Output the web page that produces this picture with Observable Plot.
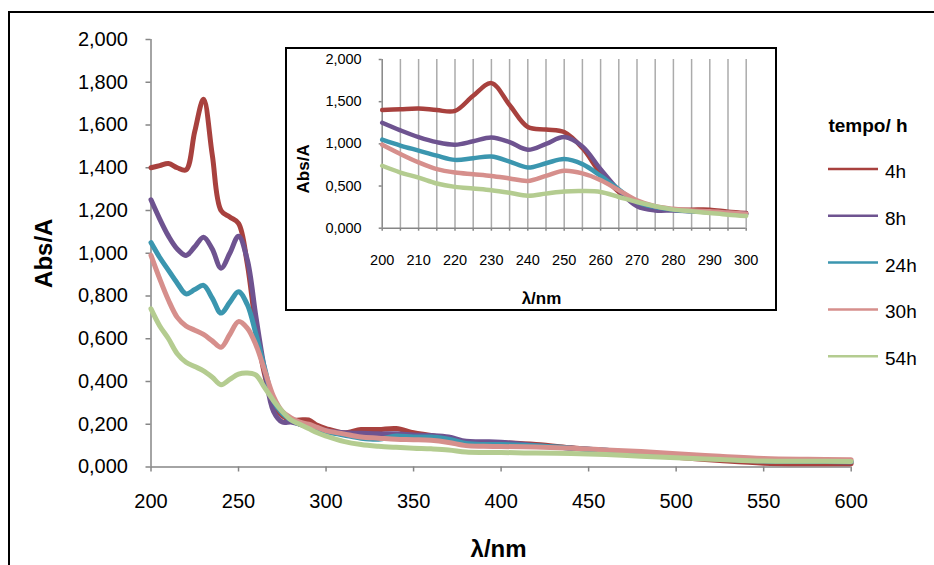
<!DOCTYPE html>
<html><head><meta charset="utf-8">
<script src="https://cdn.jsdelivr.net/npm/d3@7"></script>
<script src="https://cdn.jsdelivr.net/npm/@observablehq/plot@0.6"></script>
<style>
body{margin:0;background:#fff;}
#wrap{position:relative;width:934px;height:565px;overflow:hidden;background:#fff;font-family:"Liberation Sans",Arial,sans-serif;}
#wrap > *{position:absolute;}
#frame{left:8px;top:11px;width:1000px;height:700px;border-top:2px solid #000;border-left:2px solid #000;}
#insetBox{left:285px;top:47px;width:492px;height:264px;box-sizing:border-box;border:2px solid #000;background:#fff;}
</style></head><body><div id="wrap"></div>
<script>
const wavelengths = [200,205,210,215,220,225,230,235,240,245,250,255,260,265,270,275,280,285,290,295,300,310,320,330,340,350,360,370,380,390,400,420,440,460,480,500,525,550,575,600];
const abs4h  = [1.40,1.41,1.42,1.40,1.39,1.57,1.72,1.46,1.20,1.17,1.14,0.95,0.65,0.43,0.29,0.24,0.22,0.22,0.22,0.195,0.18, 0.16,0.175,0.175,0.18,0.16,0.147,0.13,0.116,0.115,0.113, 0.105,0.09,0.075,0.06,0.045,0.03,0.018,0.015,0.015];
const abs8h  = [1.25,1.16,1.08,1.02,0.99,1.03,1.075,1.02,0.93,1.00,1.08,0.97,0.70,0.45,0.26,0.21,0.21,0.20,0.19,0.18,0.17, 0.16,0.158,0.155,0.155,0.15,0.147,0.14,0.12,0.118,0.116, 0.10,0.088,0.078,0.065,0.052,0.04,0.03,0.027,0.025];
const abs24h = [1.05,0.98,0.92,0.86,0.81,0.83,0.85,0.79,0.72,0.77,0.82,0.76,0.62,0.46,0.31,0.25,0.22,0.20,0.19,0.175,0.165, 0.15,0.135,0.13,0.145,0.14,0.14,0.13,0.11,0.105,0.105, 0.10,0.088,0.078,0.065,0.052,0.038,0.028,0.026,0.025];
const abs30h = [0.99,0.88,0.78,0.70,0.66,0.64,0.62,0.59,0.56,0.62,0.68,0.65,0.57,0.45,0.33,0.26,0.23,0.21,0.20,0.185,0.17, 0.155,0.14,0.135,0.13,0.128,0.125,0.115,0.10,0.097,0.096, 0.093,0.088,0.08,0.072,0.062,0.05,0.04,0.036,0.034];
const abs54h = [0.74,0.66,0.60,0.53,0.49,0.47,0.45,0.42,0.385,0.41,0.435,0.44,0.43,0.37,0.31,0.26,0.22,0.20,0.18,0.16,0.145, 0.12,0.105,0.097,0.092,0.088,0.085,0.08,0.07,0.068,0.068, 0.065,0.063,0.058,0.05,0.043,0.035,0.028,0.027,0.026];

const seriesNames = ["4h","8h","24h","30h","54h"];
const seriesColors = ["#A8413E","#6E5390","#3B96AF","#D68F8C","#B4CC90"];
const legendTitle = "tempo/ h";
const yTitle = "Abs/A";
const xTitle = "λ/nm";
const mainXTicks = [200,250,300,350,400,450,500,550,600];
const mainYTicks = [0,0.2,0.4,0.6,0.8,1.0,1.2,1.4,1.6,1.8,2.0];
const insetXTicks = [200,210,220,230,240,250,260,270,280,290,300];
const insetYTicks = [0,0.5,1.0,1.5,2.0];
const insetGrid = [205,210,215,220,225,230,235,240,245,250,255,260,265,270,275,280,285,290,295,300];
const insetMinorTicks = [200,205,210,215,220,225,230,235,240,245,250,255,260,265,270,275,280,285,290,295,300];

const allSeries = [abs4h, abs8h, abs24h, abs30h, abs54h];
const rows = [];
allSeries.forEach((vals, i) => vals.forEach((v, j) => rows.push({lambda: wavelengths[j], abs: v, series: seriesNames[i]})));
const insetRows = rows.filter(d => d.lambda <= 300);

const fmt = v => v.toFixed(3).replace(".", ",");
const axisGray = "#868686";
const font = "'Liberation Sans', Arial, sans-serif";

const wrap = document.getElementById("wrap");

const main = Plot.plot({
  width: 934, height: 565,
  marginLeft: 150.5, marginRight: 83.3, marginTop: 39, marginBottom: 98.5,
  style: {background: "transparent", fontFamily: font, color: "#000", overflow: "visible"},
  x: {domain: [200, 600]},
  y: {domain: [0, 2]},
  color: {domain: seriesNames, range: seriesColors},
  marks: [
    Plot.ruleX([200], {stroke: axisGray, strokeWidth: 1.5}),
    Plot.ruleY([0], {stroke: axisGray, strokeWidth: 1.5}),
    Plot.axisY({ticks: mainYTicks, tickFormat: fmt, tickSize: 5, tickPadding: 18, stroke: axisGray, strokeWidth: 1.5, fill: "#000", fontSize: 20, label: null}),
    Plot.axisX({ticks: mainXTicks, tickFormat: d => String(d), tickSize: 5, tickPadding: 22, stroke: axisGray, strokeWidth: 1.5, fill: "#000", fontSize: 20, label: null}),
    Plot.line(rows, {x: "lambda", y: "abs", z: "series", stroke: "series", strokeWidth: 5, curve: "catmull-rom", strokeLinejoin: "round", strokeLinecap: "round"}),
    Plot.text([yTitle], {text: d => d, frameAnchor: "left", dx: -106.5, dy: 0, rotate: -90, fontSize: 24, fontWeight: "bold", fill: "#000", textAnchor: "middle", lineAnchor: "middle"}),
    Plot.text([xTitle], {text: d => d, frameAnchor: "bottom", dx: -2.5, dy: 82, fontSize: 24, fontWeight: "bold", fill: "#000", textAnchor: "middle", lineAnchor: "middle"})
  ]
});
main.style.left = "0px"; main.style.top = "0px";
wrap.appendChild(main);

const box = document.createElement("div"); box.id = "insetBox"; wrap.appendChild(box);

const inset = Plot.plot({
  width: 934, height: 565,
  marginLeft: 381.7, marginRight: 188.3, marginTop: 59, marginBottom: 337.3,
  style: {background: "transparent", fontFamily: font, color: "#000", overflow: "visible"},
  x: {domain: [200, 300]},
  y: {domain: [0, 2]},
  color: {domain: seriesNames, range: seriesColors},
  marks: [
    Plot.ruleX(insetGrid, {stroke: "#ABABAB", strokeWidth: 1.5}),
    Plot.ruleX([200], {stroke: axisGray, strokeWidth: 1.5}),
    Plot.ruleY([0], {stroke: axisGray, strokeWidth: 1.5}),
    Plot.axisY({ticks: insetYTicks, tickFormat: fmt, tickSize: 3, tickPadding: 17.5, stroke: axisGray, strokeWidth: 1.5, fill: "#000", fontSize: 14.5, label: null}),
    Plot.axisX({ticks: insetMinorTicks, tickFormat: () => "", tickSize: 3, stroke: axisGray, strokeWidth: 1.5, label: null}),
    Plot.axisX({ticks: insetXTicks, tickFormat: d => String(d), tickSize: 0, tickPadding: 27, fill: "#000", fontSize: 14.5, label: null}),
    Plot.line(insetRows, {x: "lambda", y: "abs", z: "series", stroke: "series", strokeWidth: 4.5, curve: "catmull-rom", strokeLinejoin: "round", strokeLinecap: "round"}),
    Plot.text([yTitle], {text: d => d, frameAnchor: "left", dx: -78.7, dy: 25, rotate: -90, fontSize: 17, fontWeight: "bold", fill: "#000", textAnchor: "middle", lineAnchor: "middle"}),
    Plot.text([xTitle], {text: d => d, frameAnchor: "bottom", dx: -22.7, dy: 70, fontSize: 17, fontWeight: "bold", fill: "#000", textAnchor: "middle", lineAnchor: "middle"})
  ]
});
inset.style.left = "0px"; inset.style.top = "0px";
wrap.appendChild(inset);

const frame = document.createElement("div"); frame.id = "frame"; wrap.appendChild(frame);

// legend
const ns = "http://www.w3.org/2000/svg";
const leg = document.createElementNS(ns, "svg");
leg.setAttribute("width", "150"); leg.setAttribute("height", "300");
leg.style.left = "784px"; leg.style.top = "100px";
leg.style.fontFamily = font;
const t = document.createElementNS(ns, "text");
t.setAttribute("x", 84); t.setAttribute("y", 32);
t.setAttribute("text-anchor", "middle");
t.setAttribute("font-size", "19"); t.setAttribute("font-weight", "bold");
t.textContent = legendTitle; leg.appendChild(t);
seriesNames.forEach((name, i) => {
  const y = 69 + i * 46.8;
  const l = document.createElementNS(ns, "line");
  l.setAttribute("x1", 44); l.setAttribute("x2", 94);
  l.setAttribute("y1", y); l.setAttribute("y2", y);
  l.setAttribute("stroke", seriesColors[i]); l.setAttribute("stroke-width", "2.5");
  leg.appendChild(l);
  const tx = document.createElementNS(ns, "text");
  tx.setAttribute("x", 101); tx.setAttribute("y", y + 9);
  tx.setAttribute("font-size", "19");
  tx.textContent = name; leg.appendChild(tx);
});
wrap.appendChild(leg);
</script></body></html>
